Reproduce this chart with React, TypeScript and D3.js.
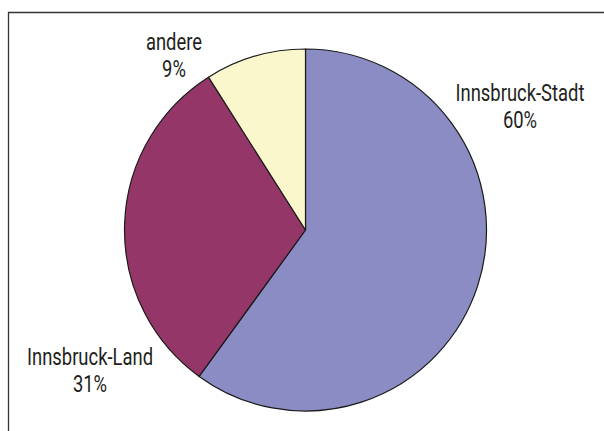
import React, { useEffect, useRef } from 'react';
import * as d3 from 'd3';

const regions = ['Innsbruck-Stadt', 'Innsbruck-Land', 'andere'];
const shares = [60, 31, 9];
const colors = ['#8a8cc3', '#943768', '#fbf7cc'];
// label anchor: [x, baseline of first line]
const labelPos: [number, number][] = [[520, 101], [90, 365], [174, 50]];

const W = 604;
const H = 431;

export default function App() {
  const svgRef = useRef<SVGSVGElement>(null);

  useEffect(() => {
    if (!svgRef.current) return;
    const svg = d3.select(svgRef.current);
    svg.selectAll('*').remove();

    // frame (only top and left visible)
    svg.append('path')
      .attr('d', `M8.5,${H} V12.5 H${W}`)
      .attr('fill', 'none')
      .attr('stroke', '#333')
      .attr('stroke-width', 1.3);

    const cx = 305.5, cy = 230, r = 181;

    const data = regions.map((name, i) => ({ name, value: shares[i], color: colors[i] }));
    const pie = d3.pie<typeof data[number]>().sort(null).value(d => d.value);
    const arc = d3.arc<d3.PieArcDatum<typeof data[number]>>().innerRadius(0).outerRadius(r);

    const g = svg.append('g').attr('transform', `translate(${cx},${cy})`);
    g.selectAll('path')
      .data(pie(data))
      .enter()
      .append('path')
      .attr('d', arc)
      .attr('fill', d => d.data.color)
      .attr('stroke', '#1a1a1a')
      .attr('stroke-width', 1.2)
      .attr('stroke-linejoin', 'round');

    const labels = svg.append('g')
      .attr('font-family', 'Roboto, sans-serif')
      .attr('font-size', 23)
      .attr('fill', '#231f20')
      .attr('text-anchor', 'middle');

    // condensed look: squeeze text horizontally
    const probe = labels.append('text').text(regions[0]);
    const natural = (probe.node() as SVGTextElement).getComputedTextLength() || 165;
    probe.remove();
    const squeeze = 129 / natural;

    data.forEach((d, i) => {
      const [x, y] = labelPos[i];
      const t = labels.append('text')
        .attr('transform', `translate(${x},${y}) scale(${squeeze},1)`);
      t.append('tspan').attr('x', 0).attr('y', 0).text(d.name);
      t.append('tspan').attr('x', 0).attr('y', 27.5).text(`${d.value}%`);
    });
  }, []);

  return (
    <svg
      ref={svgRef}
      width={W}
      height={H}
      style={{ position: 'absolute', left: 0, top: 0, background: '#fff' }}
    />
  );
}
